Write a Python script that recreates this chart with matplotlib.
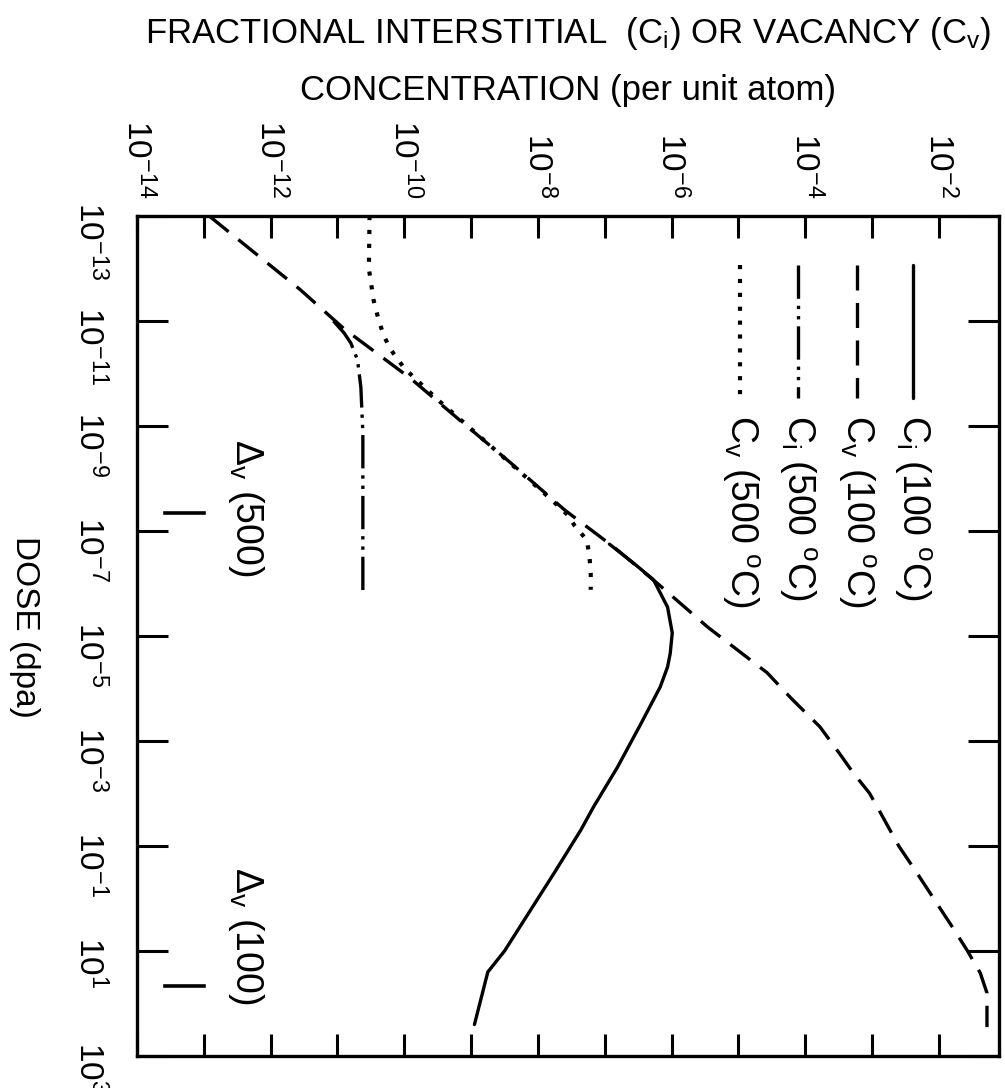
import numpy as np
import matplotlib
matplotlib.use("Agg")
import matplotlib.pyplot as plt
from matplotlib.ticker import FixedLocator, FuncFormatter, NullLocator

# Curves as log10 values: dose in dpa, concentration per unit atom
ci100_dose = [-6.75, -6.39, -6.07, -5.55, -5.06, -4.67, -4.41, -4.03, -3.35, -2.5, -1.74, -1.3, -0.5, 0.3,
              1.0, 1.4, 2.4]
ci100_conc = [-6.93, -6.57, -6.27, -6.06, -5.99, -6.02, -6.06, -6.17, -6.45, -6.81, -7.17, -7.36, -7.75, -8.15,
              -8.5, -8.75, -8.95]

cv100_dose = [-13.0, -11.6, -10.85, -9.9, -9.1, -8.3, -7.4, -6.7, -6.0, -5.17, -4.3, -3.8, -3.27, -2.75,
              -2.39, -2.01, -1.74, -1.0, -0.49, 0.54, 0.98, 1.42, 1.8, 2.45]
cv100_conc = [-12.92, -11.56, -10.9, -9.9, -9.16, -8.41, -7.6, -6.87, -6.21, -5.46, -4.57, -4.2, -3.78, -3.48,
              -3.28, -3.04, -2.92, -2.6, -2.33, -1.8, -1.58, -1.38, -1.28, -1.28]

ci500_dose = [-11.0, -10.77, -10.58, -10.26, -9.74, -8.87, -7.6, -5.8]
ci500_conc = [-11.06, -10.9, -10.8, -10.7, -10.65, -10.62, -10.62, -10.62]

cv500_dose = [-13.0, -12.0, -11.4, -11.0, -10.7, -10.45, -10.1, -9.5, -8.5, -7.6, -7.3, -7.1, -6.83, -6.54,
              -6.2, -5.88]
cv500_conc = [-10.52, -10.53, -10.46, -10.38, -10.3, -10.2, -10.0, -9.5, -8.6, -7.8, -7.55, -7.45, -7.27, -7.23,
              -7.21, -7.21]

# Vacancy saturation doses marked near the concentration floor
delta_labels = [r"$\Delta_\mathregular{v}$ (500)", r"$\Delta_\mathregular{v}$ (100)"]
delta_dose = [-7.34, 1.67]
delta_text_dose = [-7.44, 0.70]
delta_marker_conc = [-13.58, -12.99]
delta_text_conc = -12.37

legend_labels = [r"C$_\mathregular{i}$ (100 $^\mathregular{o}$C)",
                 r"C$_\mathregular{v}$ (100 $^\mathregular{o}$C)",
                 r"C$_\mathregular{i}$ (500 $^\mathregular{o}$C)",
                 r"C$_\mathregular{v}$ (500 $^\mathregular{o}$C)"]

conc_tick_exp = list(range(-14, -1))
dose_tick_exp = list(range(-13, 4, 2))

plt.rcParams['font.family'] = ['Liberation Sans', 'DejaVu Sans']
plt.rcParams['mathtext.fontset'] = 'custom'
plt.rcParams['mathtext.rm'] = 'Liberation Sans'
plt.rcParams['mathtext.it'] = 'Liberation Sans:italic'
plt.rcParams['mathtext.sf'] = 'Liberation Sans'
plt.rcParams['lines.scale_dashes'] = False


def pw(v):
    return 10.0 ** np.asarray(v, dtype=float)


W, H = 1005, 1088
fig = plt.figure(figsize=(W / 100, H / 100), dpi=100)
x0, x1, y0, y1 = 137, 999, 216, 1056
ax = fig.add_axes([x0 / W, 1 - y1 / H, (x1 - x0) / W, (y1 - y0) / H])

ax.set_xscale('log')
ax.set_yscale('log')
ax.set_xlim(1e-14, 10 ** -1.1)
ax.set_ylim(1e3, 1e-13)

styles = [
    dict(linestyle='-', lw=2.4, solid_capstyle='round'),
    dict(dashes=(18, 9), lw=2.4),
    dict(dashes=(24, 5, 2.4, 5, 2.4, 5), lw=2.4),
    dict(dashes=(3, 7), lw=3.0),
]
series = [(ci100_conc, ci100_dose), (cv100_conc, cv100_dose),
          (ci500_conc, ci500_dose), (cv500_conc, cv500_dose)]
for (c, d), st in zip(series, styles):
    ax.plot(pw(c), pw(d), color='black', **st)

# legend drawn as vertical line samples with rotated captions
legend_x = [0.900, 0.835, 0.767, 0.700]
for lx, lab, st in zip(legend_x, legend_labels, styles):
    ax.plot([lx, lx], [0.942, 0.783], transform=ax.transAxes, color='black', **st)
    ax.text(lx, 0.763, lab, transform=ax.transAxes, rotation=-90, ha='center', va='top',
            fontsize=27)

for lab, dd, td in zip(delta_labels, delta_dose, delta_text_dose):
    ax.plot(pw(delta_marker_conc), pw([dd, dd]), color='black', lw=2.6)
    ax.text(pw(delta_text_conc), pw(td), lab, rotation=-90, ha='center', va='center', fontsize=27)

# axes: concentration across the top, dose down the left
ax.xaxis.set_major_locator(FixedLocator(pw(conc_tick_exp)))
ax.xaxis.set_minor_locator(NullLocator())
ax.xaxis.set_major_formatter(FuncFormatter(
    lambda v, p: r"$\mathregular{10^{%d}}$" % round(np.log10(v)) if round(np.log10(v)) % 2 == 0 else ""))
ax.yaxis.set_major_locator(FixedLocator(pw(dose_tick_exp)))
ax.yaxis.set_minor_locator(NullLocator())
ax.yaxis.set_major_formatter(FuncFormatter(lambda v, p: r"$\mathregular{10^{%d}}$" % round(np.log10(v))))

ax.tick_params(axis='x', which='major', direction='in', length=16, width=2.2, top=True, bottom=True,
               labeltop=True, labelbottom=False, labelrotation=-90, labelsize=24, pad=13)
ax.tick_params(axis='y', which='major', direction='in', length=22, width=2.2, left=True, right=True,
               labelleft=True, labelright=False, labelrotation=-90, labelsize=24, pad=22)
for s in ax.spines.values():
    s.set_linewidth(2.4)

ax.xaxis.set_label_position('top')
ax.set_xlabel("FRACTIONAL INTERSTITIAL  (C$_\\mathregular{i}$) OR VACANCY (C$_\\mathregular{v}$)\n"
              "CONCENTRATION (per unit atom)", fontsize=25, linespacing=1.85, labelpad=14)
ax.set_ylabel("DOSE (dpa)", rotation=-90, fontsize=24, ha='center', va='center')
ax.yaxis.set_label_coords(-0.13, 0.511)

fig.savefig("out.png", dpi=100, facecolor='white')
